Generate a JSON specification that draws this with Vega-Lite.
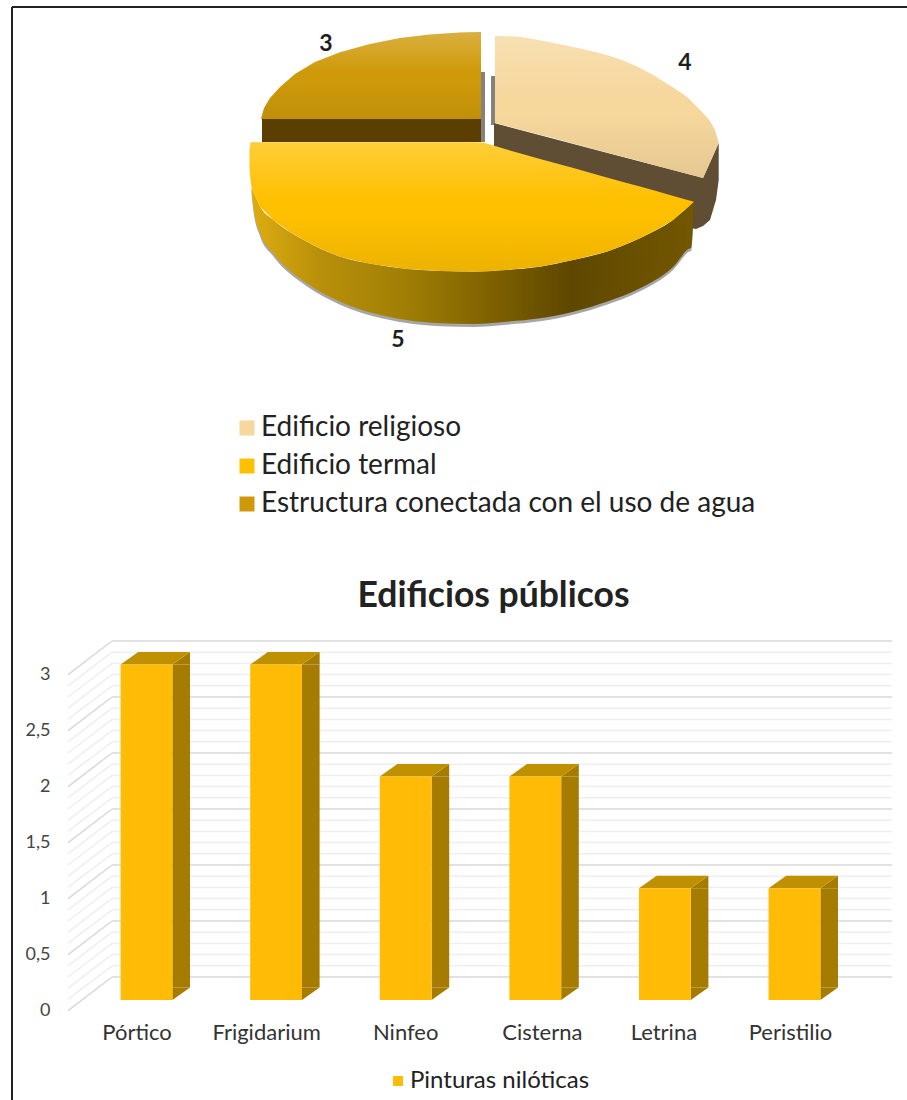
{
  "$schema": "https://vega.github.io/schema/vega-lite/v6.json",
  "width": 907,
  "height": 1100,
  "padding": 0,
  "autosize": {"type": "fit", "contains": "padding"},
  "background": "white",
  "config": {
    "view": {"stroke": null},
    "font": "Lato",
    "axis": {"domain": false, "ticks": false, "grid": false}
  },
  "title": {
    "text": "Edificios públicos",
    "frame": "group",
    "anchor": "middle",
    "dx": 40.5,
    "offset": -614,
    "fontSize": 35.5,
    "font": "Lato",
    "fontWeight": "bold",
    "color": "#222222"
  },
  "datasets": {
    "marco": [
      {"x0": -473, "x1": 422, "y0": 143, "y1": 143},
      {"x0": -473, "x1": -473, "y0": 143, "y1": -950}
    ],
    "tiras": [
      {"tira": "a", "u": -4, "v": 78, "v2": 8},
      {"tira": "a", "u": 0, "v": 78, "v2": 8},
      {"tira": "b", "u": 6, "v": 74, "v2": 25},
      {"tira": "b", "u": 10, "v": 74, "v2": 25}
    ],
    "ladoReligioso": [
      {"u": 9, "v": 27, "v2": 3},
      {"u": 115, "v": -1, "v2": -40},
      {"u": 205, "v": -24.5, "v2": -78},
      {"u": 211, "v": -26, "v2": -79},
      {"u": 218, "v": -28, "v2": -76},
      {"u": 225, "v": -12.4, "v2": -70},
      {"u": 231, "v": 1, "v2": -50},
      {"u": 233.7, "v": 7, "v2": -30}
    ],
    "ladoEstructura": [
      {"u": -223, "v": 31, "v2": 8},
      {"u": -4, "v": 31, "v2": 8}
    ],
    "ladoTermal": [
      {"u": -233.3, "v": -38.3, "v2": -42, "sombra": -45},
      {"u": -231.7, "v": -42, "v2": -56.7, "sombra": -59.7},
      {"u": -225, "v": -56.7, "v2": -83, "sombra": -86},
      {"u": -211.7, "v": -70, "v2": -103.3, "sombra": -106.3},
      {"u": -178.3, "v": -91.7, "v2": -133.3, "sombra": -136.3},
      {"u": -145, "v": -106.7, "v2": -151.7, "sombra": -154.7},
      {"u": -111.7, "v": -114.3, "v2": -163.3, "sombra": -166.3},
      {"u": -78.3, "v": -119, "v2": -170, "sombra": -173},
      {"u": -45, "v": -121, "v2": -173.3, "sombra": -176.3},
      {"u": -11.7, "v": -121.7, "v2": -174, "sombra": -177},
      {"u": 21.7, "v": -120, "v2": -171.7, "sombra": -174.7},
      {"u": 55, "v": -116.7, "v2": -168.3, "sombra": -171.3},
      {"u": 88.3, "v": -110, "v2": -161.7, "sombra": -164.7},
      {"u": 121.7, "v": -101.7, "v2": -151.7, "sombra": -154.7},
      {"u": 155, "v": -88.3, "v2": -138.3, "sombra": -141.3},
      {"u": 188.3, "v": -70, "v2": -116.7, "sombra": -119.7},
      {"u": 205, "v": -57, "v2": -98.3, "sombra": -101.3},
      {"u": 206, "v": -56, "v2": -98, "sombra": -101},
      {"u": 209, "v": -51.7, "v2": -51.7, "sombra": -54.7}
    ],
    "sectores": [
      {"segmento": "Edificio religioso", "u": 10, "v": 114, "v2": 27},
      {"segmento": "Edificio religioso", "u": 35, "v": 113.3, "v2": 20.6},
      {"segmento": "Edificio religioso", "u": 68, "v": 107.3, "v2": 11.9},
      {"segmento": "Edificio religioso", "u": 102, "v": 100, "v2": 2.8},
      {"segmento": "Edificio religioso", "u": 118, "v": 96, "v2": -1.5},
      {"segmento": "Edificio religioso", "u": 135, "v": 90.7, "v2": -5.9},
      {"segmento": "Edificio religioso", "u": 152, "v": 83.5, "v2": -10.3},
      {"segmento": "Edificio religioso", "u": 168, "v": 75, "v2": -14.7},
      {"segmento": "Edificio religioso", "u": 185, "v": 64.5, "v2": -19.2},
      {"segmento": "Edificio religioso", "u": 202, "v": 53.3, "v2": -23.7},
      {"segmento": "Edificio religioso", "u": 218, "v": 37, "v2": -28},
      {"segmento": "Edificio religioso", "u": 225, "v": 29, "v2": -12.4},
      {"segmento": "Edificio religioso", "u": 230, "v": 20, "v2": -1.2},
      {"segmento": "Edificio religioso", "u": 233.7, "v": 7, "v2": 7},
      {"segmento": "Edificio termal", "u": -235.5, "v": 0, "v2": -18},
      {"segmento": "Edificio termal", "u": -234.5, "v": 7.5, "v2": -30},
      {"segmento": "Edificio termal", "u": -233.3, "v": 7.7, "v2": -38.3},
      {"segmento": "Edificio termal", "u": -225, "v": 7.7, "v2": -56.7},
      {"segmento": "Edificio termal", "u": -211.7, "v": 7.7, "v2": -70},
      {"segmento": "Edificio termal", "u": -195, "v": 7.7, "v2": -82},
      {"segmento": "Edificio termal", "u": -178.3, "v": 7.7, "v2": -91.7},
      {"segmento": "Edificio termal", "u": -161.7, "v": 7.7, "v2": -100},
      {"segmento": "Edificio termal", "u": -145, "v": 7.7, "v2": -106.7},
      {"segmento": "Edificio termal", "u": -128, "v": 7.7, "v2": -111},
      {"segmento": "Edificio termal", "u": -111.7, "v": 7.7, "v2": -114.3},
      {"segmento": "Edificio termal", "u": -78.3, "v": 7.7, "v2": -119},
      {"segmento": "Edificio termal", "u": -45, "v": 7.7, "v2": -121},
      {"segmento": "Edificio termal", "u": -11.7, "v": 7.7, "v2": -121.7},
      {"segmento": "Edificio termal", "u": -2, "v": 7.5, "v2": -121.5},
      {"segmento": "Edificio termal", "u": 21.7, "v": 0.4, "v2": -120},
      {"segmento": "Edificio termal", "u": 55, "v": -8.9, "v2": -116.7},
      {"segmento": "Edificio termal", "u": 88.3, "v": -18.1, "v2": -110},
      {"segmento": "Edificio termal", "u": 121.7, "v": -27.4, "v2": -101.7},
      {"segmento": "Edificio termal", "u": 138, "v": -32, "v2": -95.5},
      {"segmento": "Edificio termal", "u": 155, "v": -36.6, "v2": -88.3},
      {"segmento": "Edificio termal", "u": 172, "v": -41.3, "v2": -79.5},
      {"segmento": "Edificio termal", "u": 188.3, "v": -45.9, "v2": -70},
      {"segmento": "Edificio termal", "u": 199, "v": -48.9, "v2": -61},
      {"segmento": "Edificio termal", "u": 209, "v": -51.7, "v2": -51.7},
      {"segmento": "Estructura conectada con el uso de agua", "u": -224, "v": 31, "v2": 31},
      {"segmento": "Estructura conectada con el uso de agua", "u": -221, "v": 42, "v2": 31},
      {"segmento": "Estructura conectada con el uso de agua", "u": -215, "v": 52, "v2": 31},
      {"segmento": "Estructura conectada con el uso de agua", "u": -205, "v": 63, "v2": 31},
      {"segmento": "Estructura conectada con el uso de agua", "u": -190, "v": 76, "v2": 31},
      {"segmento": "Estructura conectada con el uso de agua", "u": -170, "v": 88.1, "v2": 31},
      {"segmento": "Estructura conectada con el uso de agua", "u": -145, "v": 97.8, "v2": 31},
      {"segmento": "Estructura conectada con el uso de agua", "u": -115, "v": 106.1, "v2": 31},
      {"segmento": "Estructura conectada con el uso de agua", "u": -85, "v": 111.9, "v2": 31},
      {"segmento": "Estructura conectada con el uso de agua", "u": -55, "v": 115.6, "v2": 31},
      {"segmento": "Estructura conectada con el uso de agua", "u": -25, "v": 117.6, "v2": 31},
      {"segmento": "Estructura conectada con el uso de agua", "u": -4, "v": 118, "v2": 31}
    ],
    "etiquetas": [
      {"segmento": "Edificio religioso", "valor": 4, "u": 200, "v": 87},
      {"segmento": "Edificio termal", "valor": 5, "u": -87, "v": -190},
      {"segmento": "Estructura conectada con el uso de agua", "valor": 3, "u": -159, "v": 106}
    ],
    "rejilla": [
      {"nivel": 0.1, "suelo": -0.2, "tipo": "secundaria"},
      {"nivel": 0.2, "suelo": -0.1, "tipo": "secundaria"},
      {"nivel": 0.3, "suelo": 0, "tipo": "secundaria"},
      {"nivel": 0.4, "suelo": 0.1, "tipo": "secundaria"},
      {"nivel": 0.6, "suelo": 0.3, "tipo": "secundaria"},
      {"nivel": 0.7, "suelo": 0.4, "tipo": "secundaria"},
      {"nivel": 0.8, "suelo": 0.5, "tipo": "secundaria"},
      {"nivel": 0.9, "suelo": 0.6, "tipo": "secundaria"},
      {"nivel": 1.1, "suelo": 0.8, "tipo": "secundaria"},
      {"nivel": 1.2, "suelo": 0.9, "tipo": "secundaria"},
      {"nivel": 1.3, "suelo": 1, "tipo": "secundaria"},
      {"nivel": 1.4, "suelo": 1.1, "tipo": "secundaria"},
      {"nivel": 1.6, "suelo": 1.3, "tipo": "secundaria"},
      {"nivel": 1.7, "suelo": 1.4, "tipo": "secundaria"},
      {"nivel": 1.8, "suelo": 1.5, "tipo": "secundaria"},
      {"nivel": 1.9, "suelo": 1.6, "tipo": "secundaria"},
      {"nivel": 2.1, "suelo": 1.8, "tipo": "secundaria"},
      {"nivel": 2.2, "suelo": 1.9, "tipo": "secundaria"},
      {"nivel": 2.3, "suelo": 2, "tipo": "secundaria"},
      {"nivel": 2.4, "suelo": 2.1, "tipo": "secundaria"},
      {"nivel": 2.6, "suelo": 2.3, "tipo": "secundaria"},
      {"nivel": 2.7, "suelo": 2.4, "tipo": "secundaria"},
      {"nivel": 2.8, "suelo": 2.5, "tipo": "secundaria"},
      {"nivel": 2.9, "suelo": 2.6, "tipo": "secundaria"},
      {"nivel": 0, "suelo": -0.3, "tipo": "principal"},
      {"nivel": 0.5, "suelo": 0.2, "tipo": "principal"},
      {"nivel": 1, "suelo": 0.7, "tipo": "principal"},
      {"nivel": 1.5, "suelo": 1.2, "tipo": "principal"},
      {"nivel": 2, "suelo": 1.7, "tipo": "principal"},
      {"nivel": 2.5, "suelo": 2.2, "tipo": "principal"},
      {"nivel": 3, "suelo": 2.7, "tipo": "principal"}
    ],
    "barras": [
      {"categoria": "Pórtico", "valor": 3, "serie": "Pinturas nilóticas"},
      {"categoria": "Frigidarium", "valor": 3, "serie": "Pinturas nilóticas"},
      {"categoria": "Ninfeo", "valor": 2, "serie": "Pinturas nilóticas"},
      {"categoria": "Cisterna", "valor": 2, "serie": "Pinturas nilóticas"},
      {"categoria": "Letrina", "valor": 1, "serie": "Pinturas nilóticas"},
      {"categoria": "Peristilio", "valor": 1, "serie": "Pinturas nilóticas"}
    ]
  },
  "resolve": {"scale": {"x": "independent", "y": "independent", "color": "independent"}},
  "layer": [
    {
      "encoding": {
        "x": {"field": "u", "type": "quantitative", "axis": null, "scale": {"domain": [-485, 422], "range": [0, 907], "nice": false, "zero": false}},
        "y": {"field": "v", "type": "quantitative", "axis": null, "scale": {"domain": [-950, 150], "range": [1100, 0], "nice": false, "zero": false}}
      },
      "layer": [
        {
          "data": {"name": "marco"},
          "mark": {"type": "rule", "color": "#222222", "strokeWidth": 2},
          "encoding": {
            "x": {"field": "x0", "type": "quantitative"},
            "x2": {"field": "x1"},
            "y": {"field": "y0", "type": "quantitative"},
            "y2": {"field": "y1"}
          }
        },
        {
          "data": {"name": "tiras"},
          "mark": {"type": "area", "orient": "vertical", "color": "#85827c"},
          "encoding": {"y2": {"field": "v2"}, "detail": {"field": "tira"}}
        },
        {
          "data": {"name": "ladoReligioso"},
          "mark": {"type": "area", "orient": "vertical", "color": "#5f4e34"},
          "encoding": {"y2": {"field": "v2"}}
        },
        {
          "data": {"name": "ladoEstructura"},
          "mark": {"type": "area", "orient": "vertical", "color": "#5a3f00"},
          "encoding": {"y2": {"field": "v2"}}
        },
        {
          "data": {"name": "ladoTermal"},
          "mark": {"type": "area", "orient": "vertical", "interpolate": "monotone", "color": "#3a3a3a", "opacity": 0.45},
          "encoding": {"y2": {"field": "sombra"}}
        },
        {
          "data": {"name": "ladoTermal"},
          "mark": {
            "type": "area",
            "orient": "vertical",
            "interpolate": "monotone",
            "color": {
              "gradient": "linear",
              "x1": 0, "y1": 0, "x2": 1, "y2": 0,
              "stops": [
                {"offset": 0, "color": "#ddac10"},
                {"offset": 0.15, "color": "#b9900a"},
                {"offset": 0.35, "color": "#a07e05"},
                {"offset": 0.55, "color": "#7d6000"},
                {"offset": 0.72, "color": "#5e4700"},
                {"offset": 0.9, "color": "#6c5200"},
                {"offset": 1, "color": "#735700"}
              ]
            }
          },
          "encoding": {"y2": {"field": "v2"}}
        },
        {
          "data": {"name": "sectores"},
          "mark": {"type": "area", "orient": "vertical"},
          "encoding": {
            "y2": {"field": "v2"},
            "color": {
              "field": "segmento",
              "type": "nominal",
              "scale": {
                "domain": ["Edificio religioso", "Edificio termal", "Estructura conectada con el uso de agua"],
                "range": ["#f6d79c", "#ffc000", "#cf9a0a"]
              },
              "legend": {
                "title": null,
                "orient": "none",
                "legendX": 233,
                "legendY": 414,
                "symbolType": "square",
                "symbolSize": 225,
                "symbolStrokeWidth": 0,
                "labelFont": "Lato",
                "labelFontSize": 28,
                "labelColor": "#222222",
                "labelOffset": 0,
                "labelLimit": 600,
                "rowPadding": 10,
                "padding": 0
              }
            }
          }
        },
        {
          "data": {"name": "sectores"},
          "mark": {
            "type": "area",
            "orient": "vertical",
            "color": {
              "gradient": "linear",
              "x1": 0, "y1": 0, "x2": 0, "y2": 1,
              "stops": [
                {"offset": 0, "color": "rgba(255,255,255,0.22)"},
                {"offset": 0.45, "color": "rgba(255,255,255,0)"},
                {"offset": 0.55, "color": "rgba(0,0,0,0)"},
                {"offset": 1, "color": "rgba(0,0,0,0.07)"}
              ]
            }
          },
          "encoding": {"y2": {"field": "v2"}, "detail": {"field": "segmento"}}
        },
        {
          "data": {"name": "etiquetas"},
          "mark": {"type": "text", "font": "Lato", "fontWeight": "bold", "fontSize": 23, "color": "#1e1e1e"},
          "encoding": {"text": {"field": "valor", "type": "quantitative"}}
        }
      ]
    },
    {
      "data": {"name": "rejilla"},
      "encoding": {
        "y": {"field": "nivel", "type": "quantitative", "axis": null, "scale": {"domain": [0, 3], "range": [977, 641], "nice": false}},
        "color": {
          "field": "tipo",
          "type": "nominal",
          "legend": null,
          "scale": {"domain": ["principal", "secundaria"], "range": ["#d9d9d9", "#efefef"]}
        }
      },
      "layer": [
        {
          "mark": {"type": "rule", "strokeWidth": 1.5},
          "encoding": {
            "x": {"datum": 0, "type": "quantitative", "axis": null, "scale": {"domain": [-44, 780], "range": [68, 892], "nice": false, "zero": false}},
            "x2": {"datum": 780}
          }
        },
        {
          "mark": {"type": "rule", "strokeWidth": 1.5},
          "encoding": {
            "x": {"datum": -44, "type": "quantitative", "axis": null, "scale": {"domain": [-44, 780], "range": [68, 892], "nice": false, "zero": false}},
            "x2": {"datum": 0},
            "y": {"field": "suelo", "type": "quantitative"},
            "y2": {"field": "nivel"}
          }
        }
      ]
    },
    {
      "data": {"name": "barras"},
      "encoding": {
        "x": {
          "field": "categoria",
          "type": "nominal",
          "sort": null,
          "title": null,
          "scale": {
            "type": "band",
            "domain": ["Pórtico", "Frigidarium", "Ninfeo", "Cisterna", "Letrina", "Peristilio"],
            "range": [81.7, 859.3],
            "paddingInner": 0.6,
            "paddingOuter": 0.3
          },
          "axis": {
            "orient": "bottom",
            "offset": -77,
            "labelAngle": 0,
            "labelPadding": 0,
            "labelBaseline": "top",
            "labelFont": "Lato",
            "labelFontSize": 22,
            "labelColor": "#333333",
            "labelOffset": {"expr": "datum.value === 'Cisterna' ? 7 : datum.value === 'Ninfeo' ? 0 : datum.value === 'Letrina' ? -1 : datum.value === 'Peristilio' ? -4 : -9.5"}
          }
        },
        "y": {
          "field": "valor",
          "type": "quantitative",
          "title": null,
          "scale": {"domain": [0, 3], "range": [1000, 664.6], "nice": false},
          "axis": {
            "orient": "left",
            "offset": -50,
            "values": [0, 0.5, 1, 1.5, 2, 2.5, 3],
            "format": "~g",
            "labelExpr": "replace(datum.label, '.', ',')",
            "labelPadding": 0,
            "labelOffset": 10,
            "labelFont": "Lato",
            "labelFontSize": 18,
            "labelColor": "#444444"
          }
        }
      },
      "layer": [
        {
          "mark": {"type": "bar", "color": "#a67c00", "width": 17.6, "xOffset": 34.7, "y2Offset": -12.5},
          "encoding": {"y2": {"datum": 0}}
        },
        {
          "mark": {"type": "point", "shape": "M25.9,0L43.5,-12.5L43.5,0Z", "size": 4, "filled": true, "opacity": 1, "color": "#a67c00"}
        },
        {
          "mark": {"type": "point", "shape": "M25.9,-12.5L43.5,-12.5L25.9,0Z", "size": 4, "filled": true, "opacity": 1, "color": "#a67c00"},
          "encoding": {"y": {"datum": 0, "type": "quantitative"}}
        },
        {
          "mark": {"type": "point", "shape": "M-25.9,0L25.9,0L43.5,-12.5L-8.3,-12.5Z", "size": 4, "filled": true, "opacity": 1, "color": "#bf9000"}
        },
        {
          "mark": {"type": "bar", "width": 51.8},
          "encoding": {
            "y2": {"datum": 0},
            "color": {
              "field": "serie",
              "type": "nominal",
              "scale": {"range": ["#ffbb06"]},
              "legend": {
                "title": null,
                "orient": "none",
                "legendX": 386,
                "legendY": 1069,
                "symbolType": "square",
                "symbolSize": 100,
                "symbolStrokeWidth": 0,
                "labelFont": "Lato",
                "labelFontSize": 24,
                "labelColor": "#222222",
                "labelOffset": 0,
                "labelLimit": 400,
                "padding": 0
              }
            }
          }
        }
      ]
    }
  ]
}
